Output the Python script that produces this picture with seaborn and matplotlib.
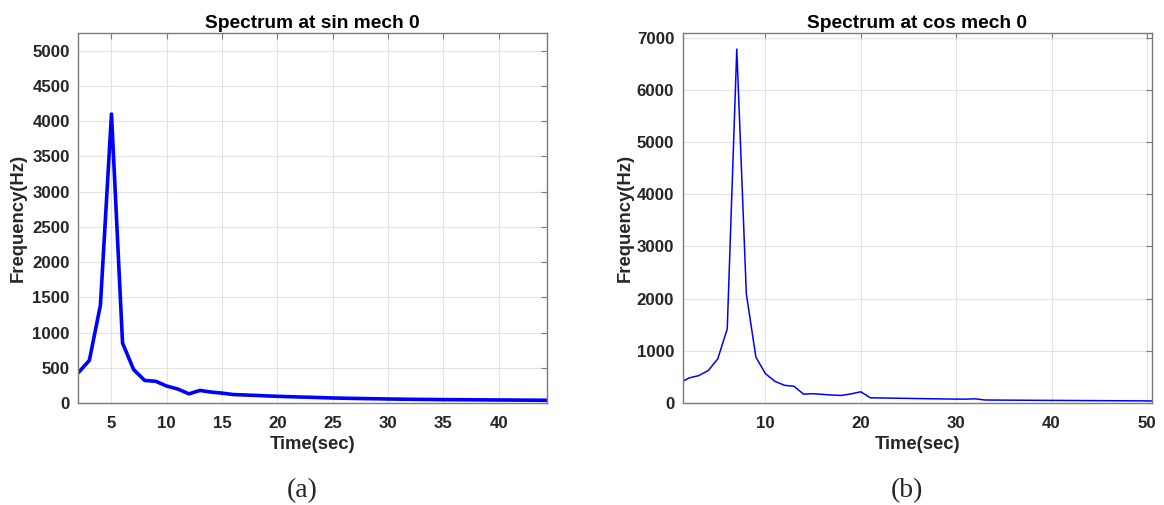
import matplotlib
matplotlib.use("Agg")
import matplotlib.pyplot as plt
import seaborn as sns
import pandas as pd

# ---- data ----
sin_time = list(range(2, 46))
sin_freq = [430, 605, 1390, 4100, 850, 475, 320, 308, 240, 198,
            130, 178, 155, 140, 120, 114, 108, 101, 95, 90,
            85, 81, 76, 71, 68, 65, 62, 60, 57, 55,
            53, 51, 50, 48, 47, 46, 45, 44, 43, 42,
            41, 40, 39, 38]

cos_time = list(range(1, 52))
cos_freq = [385, 480, 524, 620, 844, 1420, 6780, 2095, 880, 563,
            415, 339, 320, 170, 178, 165, 152, 145, 175, 215,
            100, 97, 94, 91, 88, 85, 82, 80, 77, 75,
            74, 80, 58, 56, 55, 54, 53, 52, 51, 50,
            49, 48, 47, 46, 45, 44, 43, 42, 41, 40, 39]

titles = ["Spectrum at sin mech 0", "Spectrum at cos mech 0"]
captions = ["(a)", "(b)"]
sin_xticks = [5, 10, 15, 20, 25, 30, 35, 40]
sin_yticks = list(range(0, 5001, 500))
cos_xticks = [10, 20, 30, 40, 50]
cos_yticks = list(range(0, 7001, 1000))

sns.set_style("white")
plt.rcParams["font.family"] = ["Liberation Sans", "DejaVu Sans"]
plt.rcParams["font.weight"] = "bold"

W, H = 1164, 505
fig = plt.figure(figsize=(W / 100, H / 100), dpi=100)

axL = fig.add_axes([78.3 / W, 1 - 403 / H, 469 / W, 370.3 / H])
axR = fig.add_axes([682.7 / W, 1 - 403 / H, 469 / W, 370.3 / H])

df_sin = pd.DataFrame({"Time": sin_time, "Freq": sin_freq})
df_cos = pd.DataFrame({"Time": cos_time, "Freq": cos_freq})

sns.lineplot(data=df_sin, x="Time", y="Freq", ax=axL, color="#0000ff", linewidth=2.6)
sns.lineplot(data=df_cos, x="Time", y="Freq", ax=axR, color="#0000ff", linewidth=1.1)

tick_col = "#262626"
spine_col = "#7a7a7a"

configs = [
    (axL, (2, 44.4), (0, 5255), sin_xticks, sin_yticks, titles[0], -0.109),
    (axR, (1.33, 50.5), (0, 7095), cos_xticks, cos_yticks, titles[1], -0.105),
]
for ax, xl, yl, xt, yt, title, ylx in configs:
    ax.set_xlim(*xl)
    ax.set_ylim(*yl)
    ax.set_xticks(xt)
    ax.set_yticks(yt)
    ax.set_xticklabels([str(v) for v in xt], fontsize=12.2, fontweight="bold", color=tick_col)
    ax.set_yticklabels([str(v) for v in yt], fontsize=12.2, fontweight="bold", color=tick_col)
    ax.tick_params(axis="x", pad=9)
    ax.tick_params(axis="y", pad=6)
    ax.grid(True, color="#e3e3e3", linewidth=0.8)
    ax.set_axisbelow(True)
    for s in ax.spines.values():
        s.set_visible(True)
        s.set_color(spine_col)
        s.set_linewidth(1.0)
    ax.tick_params(axis="both", direction="in", length=4, width=0.8, color=spine_col,
                   top=True, right=True)
    ax.set_title(title, fontsize=13.8, fontweight="bold", color="black", pad=3.5)
    ax.set_xlabel("Time(sec)", fontsize=13.3, fontweight="bold", color=tick_col)
    ax.set_ylabel("Frequency(Hz)", fontsize=13.3, fontweight="bold", color=tick_col)
    ax.xaxis.set_label_coords(0.5, -0.09)
    ax.yaxis.set_label_coords(ylx, 0.5)

fig.text(301.7 / W, 1 - 491 / H, captions[0], ha="center", va="center",
         fontsize=20, family=["Liberation Serif", "DejaVu Serif"], fontweight="normal")
fig.text(906.7 / W, 1 - 491 / H, captions[1], ha="center", va="center",
         fontsize=20, family=["Liberation Serif", "DejaVu Serif"], fontweight="normal")

fig.savefig("out.png", dpi=100)
